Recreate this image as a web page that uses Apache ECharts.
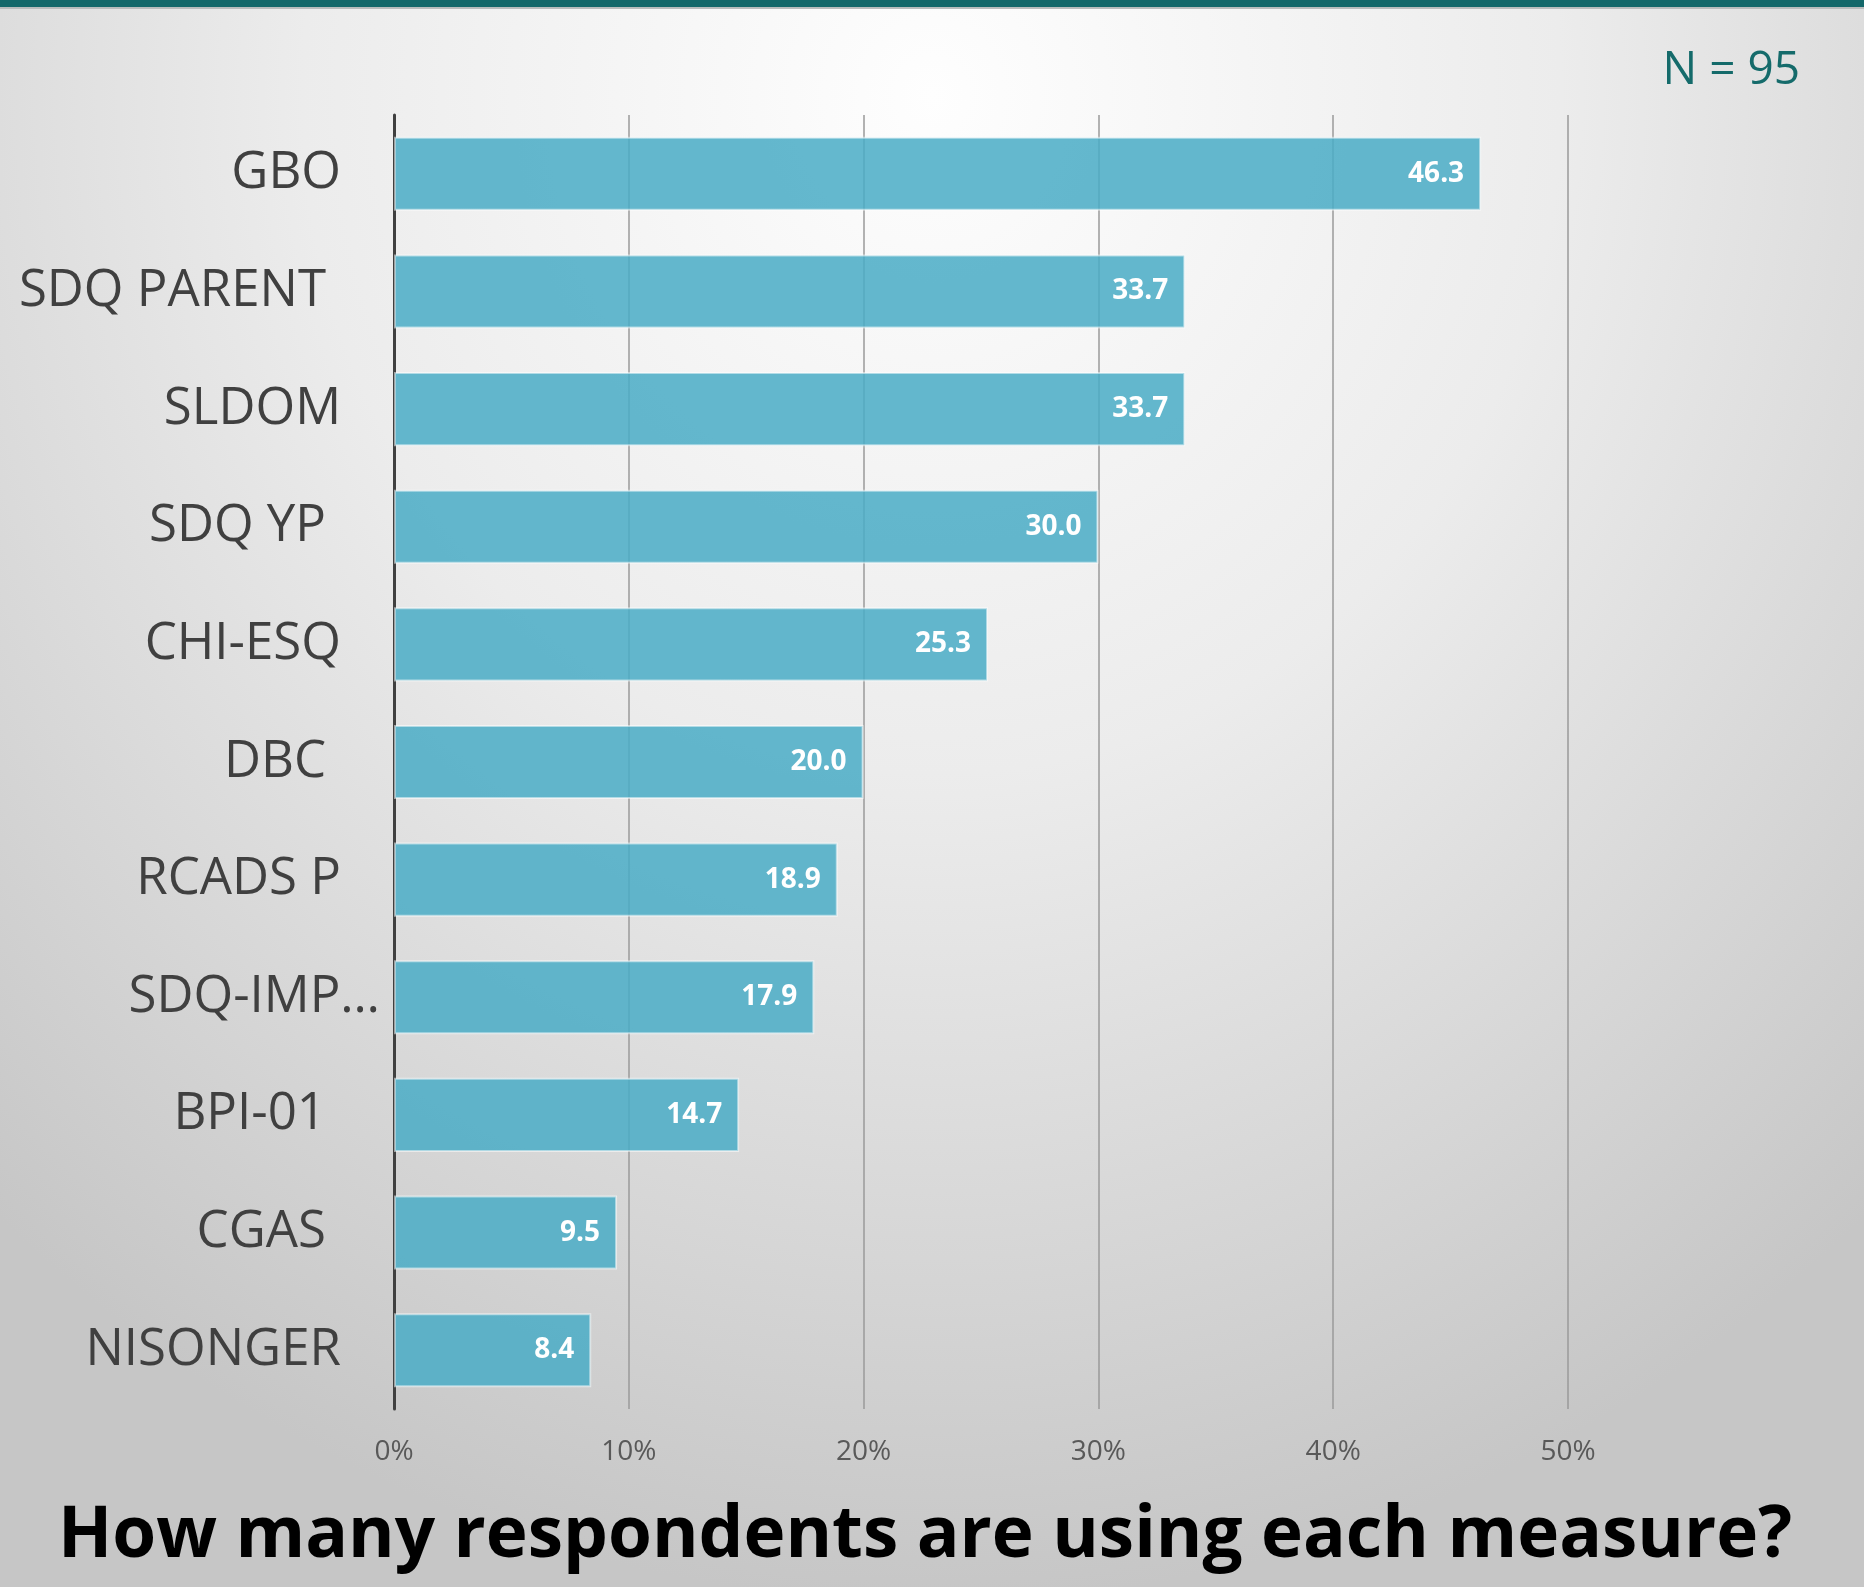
<!DOCTYPE html>
<html>
<head>
<meta charset="utf-8">
<script src="https://cdn.jsdelivr.net/npm/echarts@6/dist/echarts.min.js"></script>
<style>
  html, body { margin: 0; padding: 0; }
  body {
    width: 1864px; height: 1587px; overflow: hidden;
    background: radial-gradient(ellipse 75% 95% at 50% 6%, #fefefe 0%, #ececec 45%, #d4d4d4 80%, #c6c6c6 100%);
  }
  #topbar { position: absolute; left: 0; top: 0; width: 1864px; height: 7px; background: #13686a; border-bottom: 2px solid #b9bdbd; }
  #chart { position: absolute; left: 0; top: 0; width: 1864px; height: 1587px; }
</style>
</head>
<body>
<div id="topbar"></div>
<div id="chart"></div>
<script>
const categories = ['GBO', 'SDQ PARENT', 'SLDOM', 'SDQ YP', 'CHI-ESQ', 'DBC', 'RCADS P', 'SDQ-IMP…', 'BPI-01', 'CGAS', 'NISONGER'];
const values = [46.3, 33.7, 33.7, 30.0, 25.3, 20.0, 18.9, 17.9, 14.7, 9.5, 8.4];
const xTicks = [0, 10, 20, 30, 40, 50];
const titleText = 'How many respondents are using each measure?';
const noteText = 'N = 95';

// labels that carried a trailing space in the source chart
const trailingSpace = ['SDQ PARENT', 'SDQ YP', 'DBC', 'BPI-01', 'CGAS'];
const truncated = ['SDQ-IMP…'];

const chart = echarts.init(document.getElementById('chart'), null, { renderer: 'canvas' });

chart.setOption({
  backgroundColor: 'transparent',
  animation: false,
  grid: { left: 394, top: 115, width: 1174, height: 1294, containLabel: false },
  xAxis: {
    type: 'value',
    min: xTicks[0],
    max: xTicks[xTicks.length - 1],
    interval: 10,
    axisLine: { show: false },
    axisTick: { show: false },
    axisLabel: {
      margin: 29,
      color: '#595959',
      fontFamily: 'Open Sans',
      fontSize: 28,
      formatter: v => v + '%'
    },
    splitLine: { show: true, lineStyle: { color: '#9a9a9a', width: 1.5 } }
  },
  yAxis: {
    type: 'category',
    data: categories,
    inverse: true,
    axisLine: { show: true, lineStyle: { color: '#404040', width: 3 } },
    axisTick: { show: false },
    axisLabel: {
      margin: 14,
      formatter: v => {
        if (truncated.includes(v)) return '{t|' + v + '}';
        if (trailingSpace.includes(v)) return '{t|' + v + '}{b| }';
        return '{t|' + v + '}{a| }';
      },
      rich: {
        t: { fontFamily: 'Open Sans', fontSize: 51, color: '#404040' },
        a: { width: 39, fontSize: 51 },
        b: { width: 54, fontSize: 51 }
      }
    }
  },
  series: [{
    type: 'bar',
    data: values,
    barCategoryGap: '37%',
    itemStyle: {
      color: 'rgba(75,172,198,0.86)',
      borderColor: 'rgba(255,255,255,0.5)',
      borderWidth: 2
    },
    label: {
      show: true,
      position: 'insideRight',
      distance: 17,
      color: '#ffffff',
      fontFamily: 'Open Sans',
      fontWeight: 'bold',
      fontSize: 28,
      formatter: p => p.value.toFixed(1)
    }
  }],
  graphic: [
    {
      type: 'text',
      right: 64,
      top: 48,
      style: { text: noteText, fontFamily: 'Open Sans', fontSize: 46, fill: '#156b6b' }
    },
    {
      type: 'text',
      x: 925,
      y: 1501,
      style: { text: titleText, textAlign: 'center', textVerticalAlign: 'top', fontFamily: 'Open Sans', fontWeight: 'bold', fontSize: 71, fill: '#000000' }
    }
  ]
});
</script>
</body>
</html>
